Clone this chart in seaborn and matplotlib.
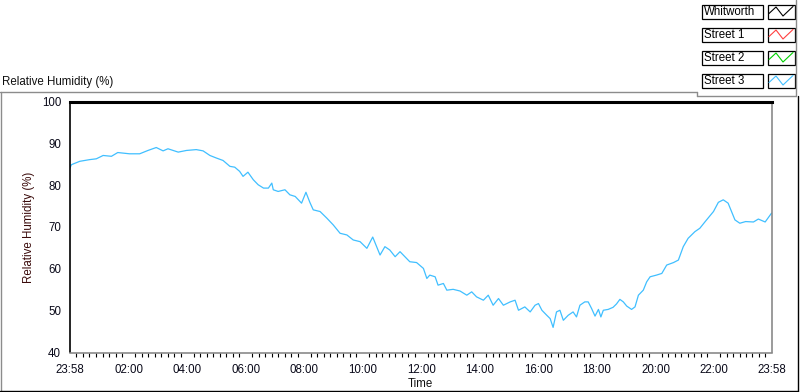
import matplotlib
matplotlib.use('Agg')
import matplotlib.pyplot as plt
import seaborn as sns
import pandas as pd

# minutes after 23:58 and relative humidity
minutes = [0, 4, 21, 41, 55, 69, 86, 99, 123, 144,
           161, 178, 192, 202, 223, 240, 260, 274, 288, 301,
           315, 329, 339, 349, 356, 366, 377, 387, 398, 408,
           415, 418, 428, 442, 452, 463, 476, 485, 493, 500,
           514, 528, 541, 555, 569, 582, 596, 610, 622, 630,
           637, 647, 657, 668, 678, 688, 698, 712, 726, 733,
           739, 750, 756, 767, 774, 787, 801, 815, 825, 835,
           849, 859, 869, 880, 890, 904, 914, 921, 934, 945,
           955, 962, 969, 979, 986, 992, 999, 1006, 1013, 1023,
           1033, 1040, 1047, 1057, 1064, 1071, 1078, 1085, 1090, 1095,
           1105, 1115, 1122, 1129, 1136, 1143, 1153, 1160, 1167, 1177,
           1184, 1191, 1204, 1215, 1225, 1239, 1249, 1259, 1269, 1283,
           1293, 1304, 1314, 1321, 1331, 1341, 1351, 1358, 1365, 1375,
           1387, 1403, 1413, 1427, 1440]
humidity = [83.9, 84.9, 85.7, 86.1, 86.3, 87.1, 86.9, 87.8, 87.5, 87.5,
            88.3, 89.0, 88.2, 88.7, 87.9, 88.3, 88.5, 88.2, 87.1, 86.5,
            85.9, 84.5, 84.3, 83.3, 82.1, 83.1, 81.3, 80.1, 79.3, 79.3,
            80.5, 78.9, 78.5, 78.9, 77.7, 77.3, 75.7, 78.3, 75.9, 74.1,
            73.7, 72.1, 70.5, 68.5, 68.1, 66.9, 66.5, 64.9, 67.6, 65.3,
            63.3, 65.3, 64.5, 62.9, 64.1, 62.9, 61.7, 61.5, 60.1, 57.7,
            58.5, 58.1, 56.1, 56.5, 54.9, 55.1, 54.7, 53.7, 54.5, 53.3,
            52.5, 53.7, 51.3, 52.9, 51.3, 52.1, 52.5, 50.1, 50.9, 49.7,
            51.3, 51.7, 50.1, 48.9, 48.1, 46.0, 49.7, 50.1, 47.7, 48.9,
            49.7, 48.5, 51.3, 52.1, 52.1, 50.5, 48.7, 50.3, 48.5, 50.1,
            50.3, 50.8, 51.6, 52.7, 52.1, 51.1, 50.3, 50.9, 53.7, 54.9,
            56.9, 58.1, 58.5, 58.9, 60.9, 61.5, 62.1, 65.3, 67.3, 68.9,
            69.7, 71.3, 72.7, 73.7, 75.9, 76.5, 75.7, 73.7, 71.7, 70.9,
            71.3, 71.2, 71.9, 71.2, 73.3]

tick_labels = ['23:58', '02:00', '04:00', '06:00', '08:00', '10:00', '12:00',
               '14:00', '16:00', '18:00', '20:00', '22:00', '23:58']
legend_names = ['Whitworth', 'Street 1', 'Street 2', 'Street 3']
legend_colors = ['black', '#ff4040', '#00d000', '#40bfff']

assert len(minutes) == len(humidity)
df = pd.DataFrame({'Time': minutes, 'Relative Humidity (%)': humidity})


def tick_min(i, lab):
    # minutes since 23:58 for a tick label
    if i == 0:
        return 0
    if i == len(tick_labels) - 1:
        return 24 * 60
    h, m = map(int, lab.split(':'))
    return h * 60 + m + 2


sns.set_style('white')
plt.rcParams['font.family'] = ['Liberation Sans', 'DejaVu Sans']
plt.rcParams['font.size'] = 8.3

W, H = 800, 392
fig = plt.figure(figsize=(8, 3.92), dpi=100, facecolor='white')

# frame / legend overlay in pixel coordinates
bg = fig.add_axes([0, 0, 1, 1], zorder=0)
bg.set_xlim(0, W)
bg.set_ylim(H, 0)
bg.axis('off')
gray = '#8c8c8c'
bg.plot([0, 697], [91.5, 91.5], color=gray, lw=1)
bg.plot([697, 697], [91.5, 95.5], color=gray, lw=1)
bg.plot([697, 796], [95.5, 95.5], color=gray, lw=1)
bg.plot([796, 796], [0, 95.5], color=gray, lw=1)
bg.plot([0.5, 0.5], [91.5, 390.5], color=gray, lw=1)
bg.plot([0, 797.5], [390.5, 390.5], color='black', lw=1)
bg.plot([797.5, 797.5], [95.5, 390.5], color='black', lw=1)
bg.text(2, 82, 'Relative Humidity (%)', ha='left', va='center', color='#101010')

for k, (name, col) in enumerate(zip(legend_names, legend_colors)):
    top = 4.5 + 23 * k
    bg.add_patch(plt.Rectangle((701.5, top), 61, 14, fill=False, ec='black', lw=0.9))
    bg.add_patch(plt.Rectangle((767.5, top), 27, 14, fill=False, ec='black', lw=0.9))
    bg.text(704, top + 7.3, name, ha='left', va='center', color='black')
    bg.plot([769, 776, 783, 793], [top + 9, top + 2.5, top + 11.5, top + 2],
            color=col, lw=0.8)

ax = fig.add_axes([69.5 / W, (H - 352.5) / H, 702 / W, 251 / H], zorder=1)
sns.lineplot(data=df, x='Time', y='Relative Humidity (%)', ax=ax,
             color='#40bfff', lw=0.9)

ax.set_xlim(0, 1440)
ax.set_ylim(40, 100)
ax.set_yticks(range(40, 101, 10))
majors = [tick_min(i, l) for i, l in enumerate(tick_labels)]
ax.set_xticks(majors)
ax.set_xticklabels(tick_labels)
minors = []
for a, b in zip(majors[:-1], majors[1:]):
    minors += [a + (b - a) * j / 9 for j in range(1, 9)]
ax.set_xticks(minors, minor=True)

ax.tick_params(axis='both', which='major', direction='out', length=4,
               width=0.9, color='black', labelcolor='#0a0a1a', pad=2)
ax.tick_params(axis='x', which='major', length=4.5, pad=4)
ax.tick_params(axis='x', which='minor', direction='out', length=3,
               width=0.8, color='black', bottom=True)
ax.xaxis.get_major_ticks()[0].tick1line.set_markeredgewidth(2)

ax.spines['top'].set_color('black')
ax.spines['top'].set_linewidth(2.2)
ax.spines['left'].set_color('black')
ax.spines['left'].set_linewidth(1.2)
ax.spines['right'].set_color('#808080')
ax.spines['right'].set_linewidth(1.1)
ax.spines['bottom'].set_color('#808080')
ax.spines['bottom'].set_linewidth(1.1)

ax.set_xlabel('Time', labelpad=1, color='#101010')
ax.set_ylabel('Relative Humidity (%)', labelpad=5, color='#3a0a0a')

fig.savefig('out.png', dpi=100, facecolor='white')
